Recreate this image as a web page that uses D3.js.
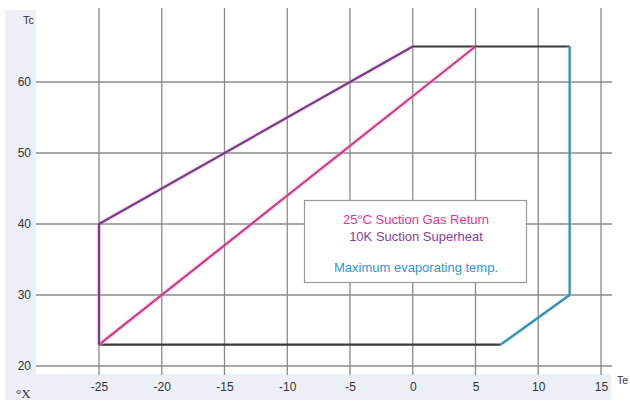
<!DOCTYPE html>
<html>
<head>
<meta charset="utf-8">
<script src="https://cdn.jsdelivr.net/npm/d3@7"></script>
<style>
  html, body { margin: 0; padding: 0; background: #ffffff; }
  svg { display: block; font-family: "Liberation Sans", Arial, sans-serif; }
</style>
</head>
<body>
<div id="chart"></div>
<script>
// ---- data ----
const xTicks = [-25, -20, -15, -10, -5, 0, 5, 10, 15];
const yTicks = [20, 30, 40, 50, 60];
const purpleLine = [[-25, 23], [-25, 40], [0, 65]];
const topLine = [[0, 65], [12.5, 65]];
const blueLine = [[12.5, 65], [12.5, 30], [7, 23]];
const bottomLine = [[7, 23], [-25, 23]];
const pinkLine = [[-25, 23], [5, 65]];
const legendTexts = ["25°C Suction Gas Return", "10K Suction Superheat", "Maximum evaporating temp."];
const legendColors = ["#e8348f", "#8c3c9a", "#2b9ad8"];

const W = 630, H = 403;
const svg = d3.select("#chart").append("svg").attr("width", W).attr("height", H);

const x = d3.scaleLinear().domain([-25, 15]).range([99, 601]);
const y = d3.scaleLinear().domain([20, 60]).range([366, 82]);

// background bands
svg.append("rect").attr("x", 5).attr("y", 10).attr("width", 31).attr("height", 390).attr("fill", "#eceff6");
svg.append("rect").attr("x", 5).attr("y", 374).attr("width", 606).attr("height", 26).attr("fill", "#eceff6");
svg.append("rect").attr("x", 36).attr("y", 10).attr("width", 590).attr("height", 364).attr("fill", "#ffffff");

// grid
const grid = svg.append("g");
grid.selectAll("line.v").data(xTicks).join("line")
  .attr("x1", d => x(d)).attr("x2", d => x(d))
  .attr("y1", 8).attr("y2", 375)
  .attr("stroke", "#8a8a8a").attr("stroke-width", 1.3);
grid.selectAll("line.h").data(yTicks).join("line")
  .attr("x1", 36).attr("x2", 612)
  .attr("y1", d => y(d)).attr("y2", d => y(d))
  .attr("stroke", "#8a8a8a").attr("stroke-width", 1.3);

// axes labels
const fmt = d => String(d);
const xAxis = d3.axisBottom(x).tickValues(xTicks).tickSize(0).tickPadding(0).tickFormat(fmt);
const gx = svg.append("g").attr("transform", "translate(0,382)").call(xAxis);
gx.select(".domain").remove();
gx.selectAll("text").attr("font-size", 12).attr("fill", "#333").attr("font-family", "Liberation Sans, Arial, sans-serif");

const yAxis = d3.axisLeft(y).tickValues(yTicks).tickSize(0).tickPadding(0).tickFormat(fmt);
const gy = svg.append("g").attr("transform", "translate(31,0)").call(yAxis);
gy.select(".domain").remove();
gy.selectAll("text").attr("font-size", 12).attr("fill", "#333").attr("font-family", "Liberation Sans, Arial, sans-serif");

svg.append("text").attr("x", 34).attr("y", 24).attr("text-anchor", "end")
  .attr("font-size", 11).attr("fill", "#333").text("Tc");
svg.append("text").attr("x", 617).attr("y", 384)
  .attr("font-size", 10.5).attr("fill", "#333").text("Te");
svg.append("text").attr("x", 16).attr("y", 398)
  .attr("font-size", 13).attr("fill", "#333").attr("font-family", "Liberation Serif, serif").text("°X");

// lines
const line = d3.line().x(d => x(d[0])).y(d => y(d[1]));
function drawLine(data, color, halo) {
  if (halo) {
    svg.append("path").attr("d", line(data)).attr("fill", "none")
      .attr("stroke", halo).attr("stroke-width", 5).attr("stroke-opacity", 0.3)
      .attr("stroke-linejoin", "round");
  }
  svg.append("path").attr("d", line(data)).attr("fill", "none")
    .attr("stroke", color).attr("stroke-width", 2.2).attr("stroke-linejoin", "round");
}
drawLine(topLine, "#3a3a3a");
drawLine(bottomLine, "#3a3a3a");
drawLine(blueLine, "#3a8cab", "#9fe3f2");
drawLine(pinkLine, "#c83d85", "#f3a6d0");
drawLine(purpleLine, "#743f80", "#eaa6dc");

// legend box
svg.append("rect").attr("x", 304.5).attr("y", 200.5).attr("width", 222).attr("height", 82)
  .attr("fill", "#ffffff").attr("stroke", "#999").attr("stroke-width", 1.2);
svg.selectAll("text.leg").data(legendTexts).join("text")
  .attr("class", "leg")
  .attr("x", 416).attr("y", (d, i) => i < 2 ? 224 + i * 17 : 272)
  .attr("text-anchor", "middle").attr("font-size", 13)
  .attr("fill", (d, i) => legendColors[i])
  .text(d => d);
</script>
</body>
</html>
